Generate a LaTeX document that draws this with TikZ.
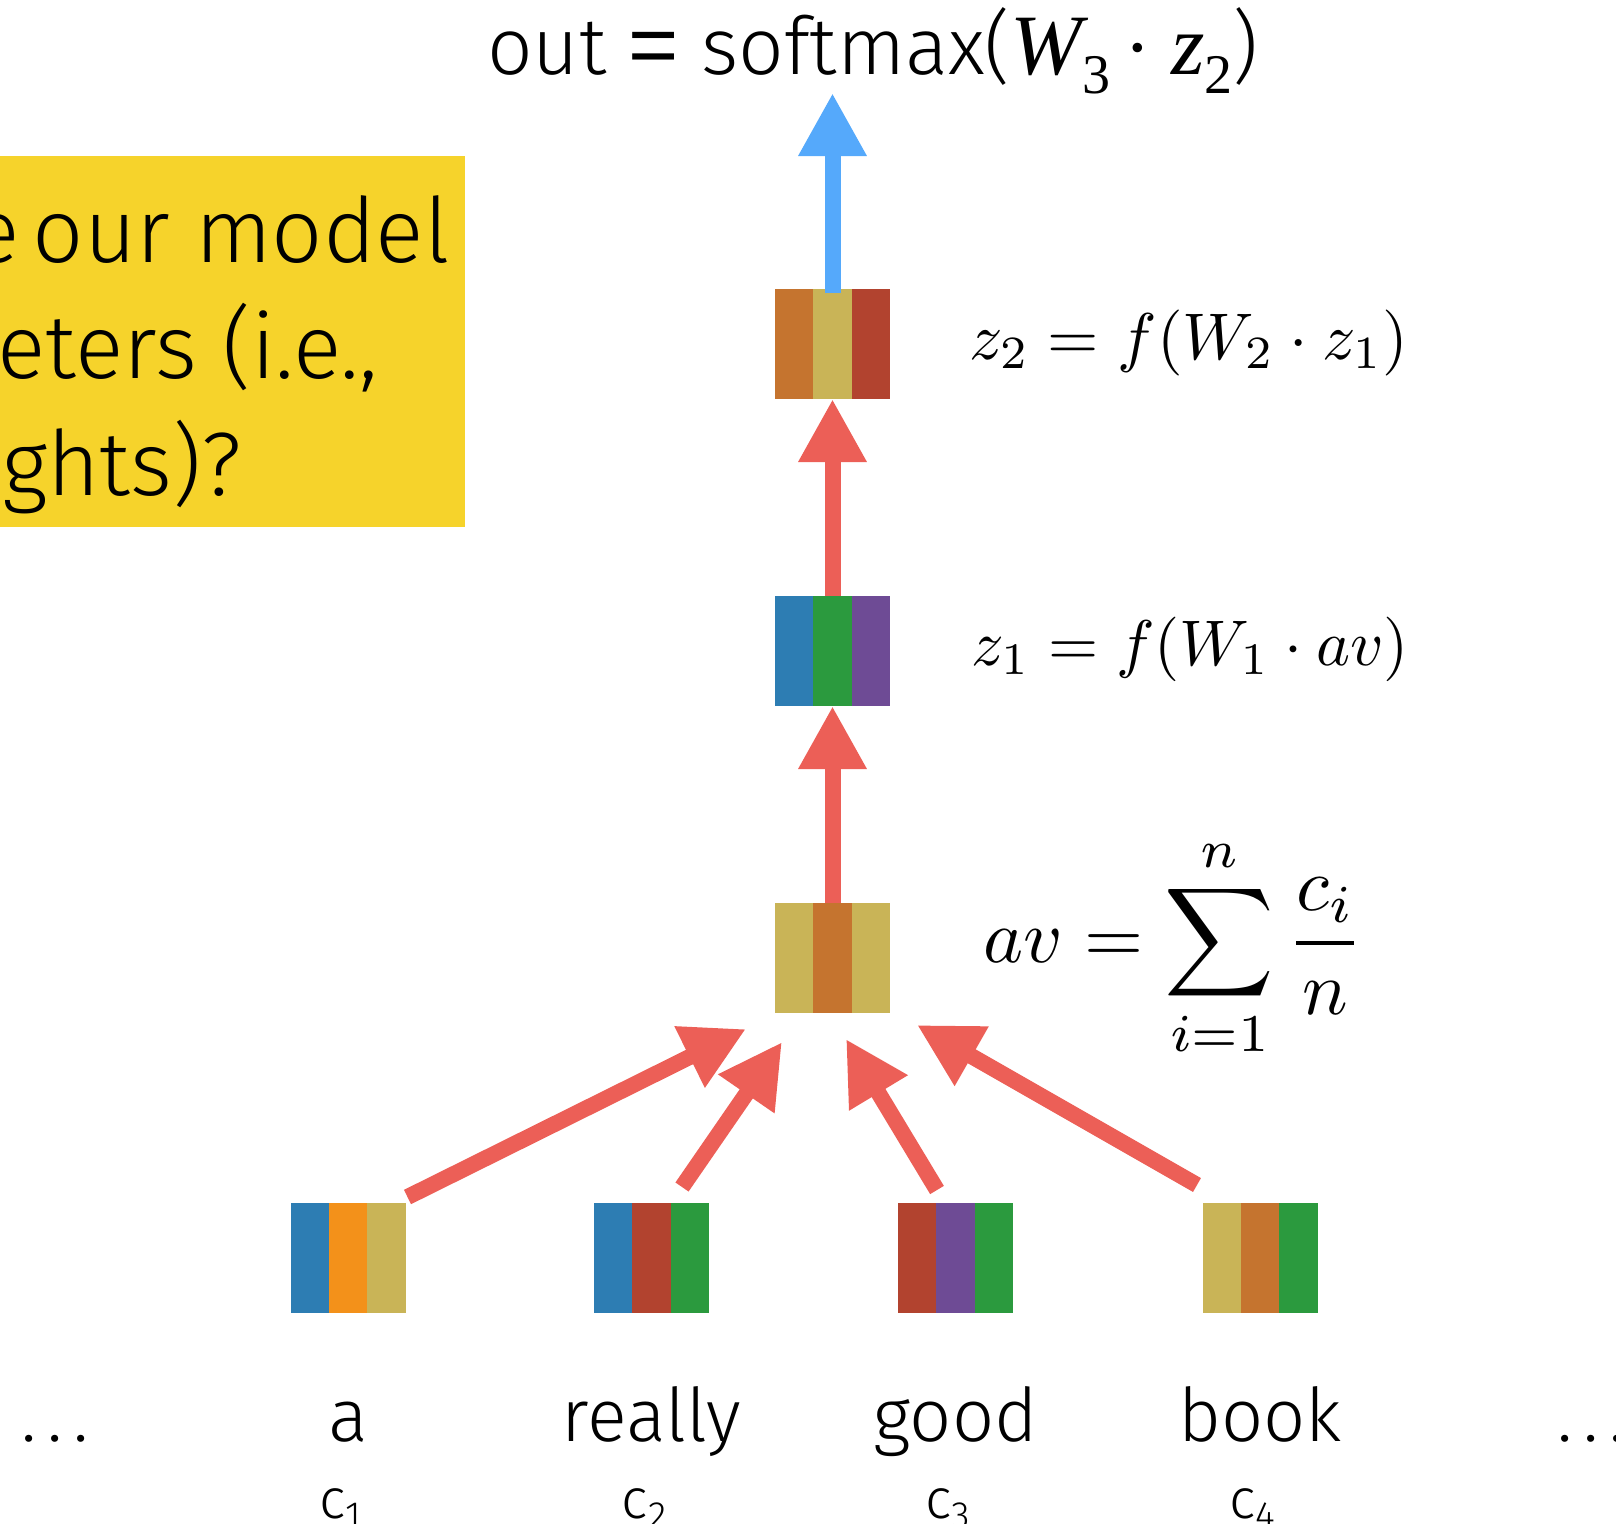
\RequirePackage{fix-cm}
\documentclass[tikz,border=0pt]{standalone}
\usepackage{amsmath}
\usepackage{fontspec}
\usetikzlibrary{arrows.meta}

\IfFontExistsTF{Fira Sans Light}{\newfontfamily\lite{Fira Sans Light}}{\newfontfamily\lite{TeX Gyre Heros}}
\newfontfamily\tms{Liberation Serif}
\newfontfamily\ars{Liberation Sans}

\definecolor{vblue}{RGB}{45,125,179}
\definecolor{vorange}{RGB}{243,145,26}
\definecolor{vkhaki}{RGB}{201,180,87}
\definecolor{vrust}{RGB}{197,116,47}
\definecolor{vred}{RGB}{178,67,47}
\definecolor{vgreen}{RGB}{43,154,62}
\definecolor{vpurple}{RGB}{110,75,149}
\definecolor{arrred}{RGB}{236,95,87}
\definecolor{arrblue}{RGB}{85,169,251}
\definecolor{boxyellow}{RGB}{246,211,43}

\tikzset{
  vecblock/.style={minimum width=115pt, minimum height=110pt, inner sep=0pt, outer sep=0pt},
  uparrow/.style={line width=16pt, arrred, -{Triangle[length=63pt,width=64pt]}},
  word/.style={anchor=base, font=\lite\fontsize{74}{88}\selectfont},
  vlabel/.style={anchor=base, font=\lite\fontsize{56}{64}\selectfont},
  eqn/.style={anchor=base west, font=\fontsize{10}{12}\selectfont, scale=#1},
  qline/.style={anchor=base east, font=\lite\fontsize{90}{110}\selectfont},
}

% three coloured stripes inside a block node
\newcommand\stripes[4]{%
  \fill[#2] (#1.south west) rectangle ([xshift=38.33pt]#1.north west);
  \fill[#3] ([xshift=38.33pt]#1.south west) rectangle ([xshift=-38.33pt]#1.north east);
  \fill[#4] ([xshift=-38.33pt]#1.south east) rectangle (#1.north east);}

\newcommand\sub[1]{{\tms\fontsize{56}{60}\selectfont\raisebox{-19pt}{#1}}}
\newcommand\csub[1]{c{\fontsize{38}{44}\selectfont\raisebox{-10pt}{#1}}}
\newcommand\wdots{.\hspace{11pt}.\hspace{11pt}.}

\begin{document}
\begin{tikzpicture}[x=1pt,y=-1pt]
	\tikzstyle{every node}=[inner sep=0pt]
	\useasboundingbox (0,0) rectangle (1616,1523);
	
	% question box, cut at the left edge
	\fill[boxyellow] (0,156) rectangle (465,527);
	\begin{scope}
		\clip (0,156) rectangle (465,527);
		\node[qline] (q1) at (450,262) {e\hspace{13pt}our model};
		\node[qline] (q2) at (378,378) {eters (i.e.,};
		\node[qline] (q3) at (242,495) {ghts)?};
	\end{scope}
	
	% blocks
	\node[vecblock] (z2) at (832.5,344) {};
	\node[vecblock] (z1) at (832.5,651) {};
	\node[vecblock] (av) at (832.5,958) {};
	\node[vecblock] (ba) at (348,1258) {};
	\node[vecblock] (breally) at (651.5,1258) {};
	\node[vecblock] (bgood) at (955.5,1258) {};
	\node[vecblock] (bbook) at (1260,1258) {};
	\stripes{z2}{vrust}{vkhaki}{vred}
	\stripes{z1}{vblue}{vgreen}{vpurple}
	\stripes{av}{vkhaki}{vrust}{vkhaki}
	\stripes{ba}{vblue}{vorange}{vkhaki}
	\stripes{breally}{vblue}{vred}{vgreen}
	\stripes{bgood}{vred}{vpurple}{vgreen}
	\stripes{bbook}{vkhaki}{vrust}{vgreen}
	
	% output
	\node[anchor=base west, font=\lite\fontsize{80}{96}\selectfont] (out) at (487,74)
	{out {\ars\fontsize{86}{96}\selectfont =} softmax({\tms\itshape\fontsize{86}{96}\selectfont W}\sub{3}\hspace{14pt}{\tms ·}\hspace{20pt}{\tms\itshape\fontsize{86}{96}\selectfont z}\sub{2})};
	\coordinate (outtip) at (832.5,93);
	
	% arrows
	\draw[uparrow, arrblue] ([yshift=-4pt]z2.north) -- (outtip);
	\draw[uparrow] (z1.north) -- (z2.south);
	\draw[uparrow] (av.north) -- (z1.south);
	\draw[uparrow] ([shift={(2,-6)}]ba.north east) -- ([shift={(-29,16)}]av.south west);
	\draw[uparrow] ([shift={(30.5,-16)}]breally.north) -- ([shift={(7,29)}]av.south west);
	\draw[uparrow] ([shift={(-18.5,-13)}]bgood.north) -- ([shift={(13.5,26)}]av.south);
	\draw[uparrow] ([shift={(-5.5,-18)}]bbook.north west) -- ([shift={(27,12)}]av.south east);
	
	% formulas
	\node[eqn=6.6] (z2eq) at (968,359) {$z_2 = f(W_2 \cdot z_1)$};
	\node[eqn=6.45] (z1eq) at (970,665) {$z_1 = f(W_1 \cdot av)$};
	\node[eqn=7.6] (aveq) at (982,962) {$\displaystyle av = \sum_{i=1}^{n} \frac{c_i}{n}$};
	
	% words
	\node[anchor=base west, font=\lite\fontsize{74}{88}\selectfont] (ldots) at (21,1441) {\wdots};
	\node[word] (wa) at (348,1441) {a};
	\node[word] (wreally) at (651.5,1441) {really};
	\node[word] (wgood) at (955.5,1441) {good};
	\node[word] (wbook) at (1260,1441) {book};
	\node[anchor=base west, font=\lite\fontsize{74}{88}\selectfont] (rdots) at (1557,1441) {\wdots};
	
	\node[vlabel] (c1) at (340,1518) {\csub{1}};
	\node[vlabel] (c2) at (644,1518) {\csub{2}};
	\node[vlabel] (c3) at (948,1518) {\csub{3}};
	\node[vlabel] (c4) at (1252,1518) {\csub{4}};
	
\end{tikzpicture}
\end{document}
